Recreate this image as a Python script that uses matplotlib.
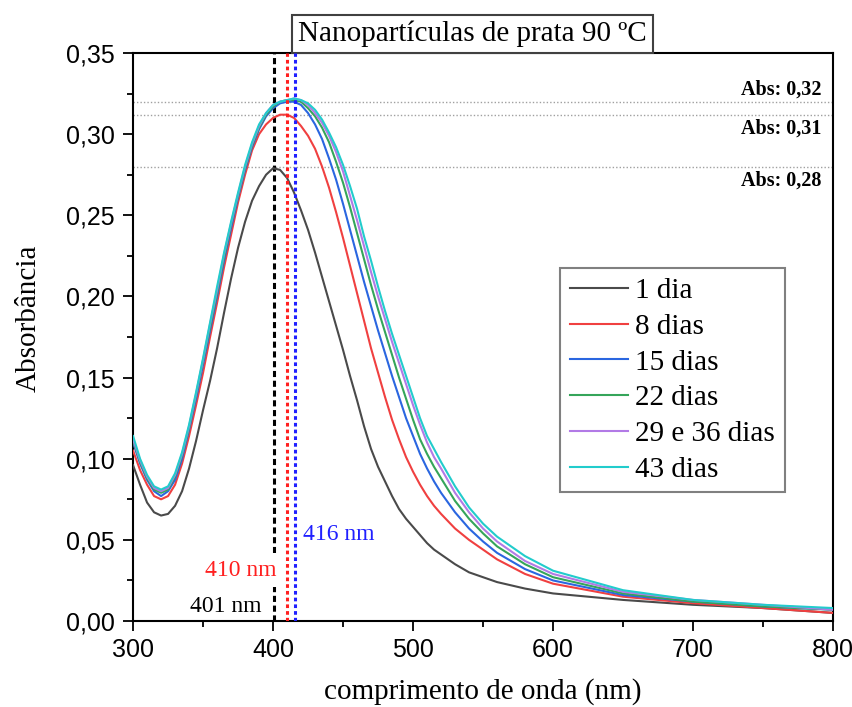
import numpy as np
import matplotlib.pyplot as plt
from matplotlib.ticker import MultipleLocator, FuncFormatter

plt.rcParams['font.family'] = ['Liberation Serif', 'DejaVu Serif']

# comprimento de onda (nm)
wl = [300, 305, 310, 315, 320, 325, 330, 335, 340, 345, 350, 355, 360, 365, 370, 375,
      380, 385, 390, 395, 400, 405, 410, 415, 420, 425, 430, 435, 440, 445, 450, 455,
      460, 465, 470, 475, 480, 485, 490, 495, 500, 505, 510, 515, 520,
      530, 540, 550, 560, 580, 600, 650, 700, 750, 800]

abs_1 = [0.096, 0.084, 0.073, 0.067, 0.065, 0.066, 0.071, 0.080, 0.094, 0.111, 0.130, 0.148, 0.168, 0.190, 0.211, 0.230,
         0.246, 0.259, 0.268, 0.275, 0.279, 0.278, 0.273, 0.264, 0.253, 0.241, 0.227, 0.212, 0.197, 0.182, 0.167, 0.151,
         0.136, 0.120, 0.106, 0.095, 0.086, 0.077, 0.069, 0.063, 0.058, 0.053, 0.048, 0.044, 0.041,
         0.035, 0.030, 0.027, 0.024, 0.020, 0.017, 0.013, 0.010, 0.008, 0.005]
abs_8 = [0.105, 0.093, 0.084, 0.077, 0.075, 0.077, 0.084, 0.097, 0.114, 0.133, 0.153, 0.175, 0.196, 0.218, 0.238, 0.258,
         0.275, 0.290, 0.300, 0.306, 0.310, 0.312, 0.312, 0.310, 0.305, 0.299, 0.291, 0.280, 0.267, 0.252, 0.236, 0.219,
         0.202, 0.185, 0.168, 0.153, 0.138, 0.124, 0.112, 0.101, 0.092, 0.084, 0.077, 0.071, 0.066,
         0.057, 0.050, 0.044, 0.038, 0.029, 0.023, 0.015, 0.011, 0.008, 0.005]
abs_15 = [0.110, 0.097, 0.087, 0.080, 0.077, 0.080, 0.087, 0.100, 0.118, 0.137, 0.158, 0.179, 0.200, 0.222, 0.242, 0.261,
          0.278, 0.292, 0.303, 0.311, 0.316, 0.319, 0.320, 0.320, 0.318, 0.313, 0.306, 0.297, 0.285, 0.272, 0.257, 0.241,
          0.225, 0.209, 0.194, 0.179, 0.165, 0.151, 0.138, 0.125, 0.114, 0.103, 0.094, 0.086, 0.079,
          0.067, 0.057, 0.049, 0.042, 0.032, 0.025, 0.016, 0.012, 0.009, 0.007]
abs_22 = [0.111, 0.098, 0.088, 0.081, 0.079, 0.081, 0.089, 0.102, 0.119, 0.139, 0.160, 0.181, 0.202, 0.224, 0.244, 0.262,
          0.279, 0.293, 0.304, 0.312, 0.317, 0.320, 0.321, 0.321, 0.320, 0.316, 0.311, 0.304, 0.295, 0.283, 0.270, 0.255,
          0.239, 0.223, 0.207, 0.192, 0.178, 0.164, 0.150, 0.137, 0.124, 0.112, 0.103, 0.095, 0.088,
          0.074, 0.063, 0.054, 0.046, 0.035, 0.027, 0.017, 0.012, 0.009, 0.007]
abs_29 = [0.112, 0.099, 0.089, 0.082, 0.080, 0.082, 0.090, 0.103, 0.120, 0.140, 0.161, 0.183, 0.204, 0.226, 0.245, 0.263,
          0.280, 0.294, 0.305, 0.313, 0.318, 0.320, 0.321, 0.322, 0.321, 0.318, 0.313, 0.307, 0.299, 0.289, 0.277, 0.262,
          0.247, 0.231, 0.215, 0.200, 0.186, 0.172, 0.159, 0.146, 0.133, 0.121, 0.110, 0.101, 0.094,
          0.079, 0.067, 0.057, 0.049, 0.037, 0.029, 0.018, 0.013, 0.010, 0.007]
abs_43 = [0.114, 0.100, 0.090, 0.083, 0.081, 0.083, 0.091, 0.104, 0.121, 0.141, 0.162, 0.184, 0.206, 0.227, 0.246, 0.264,
          0.281, 0.295, 0.306, 0.313, 0.318, 0.320, 0.321, 0.322, 0.321, 0.319, 0.315, 0.309, 0.301, 0.292, 0.281, 0.268,
          0.254, 0.237, 0.222, 0.206, 0.191, 0.177, 0.164, 0.151, 0.138, 0.125, 0.114, 0.106, 0.098,
          0.083, 0.070, 0.060, 0.052, 0.040, 0.031, 0.019, 0.013, 0.010, 0.008]

series = [abs_1, abs_8, abs_15, abs_22, abs_29, abs_43]
labels = ['1 dia', '8 dias', '15 dias', '22 dias', '29 e 36 dias', '43 dias']
colors = ['#4a4a4a', '#f04040', '#2a66e0', '#35a55a', '#b27ae6', '#22cccc']

# picos e absorbancias maximas
peaks = [401, 410, 416]
peak_colors = ['black', '#ff2020', '#2020ff']
abs_max = [0.32, 0.312, 0.28]
abs_text = ['Abs: 0,32', 'Abs: 0,31', 'Abs: 0,28']

fig = plt.figure(figsize=(8.53, 7.07), dpi=100)
ax = fig.add_axes([0.156, 0.1216, 0.8206, 0.8034])

for y, lab, c in zip(series, labels, colors):
    ax.plot(wl, y, color=c, lw=1.5, label=lab, zorder=3)

# linhas horizontais pontilhadas
for a in abs_max:
    ax.axhline(a, color='#a0a0a0', lw=1.0, ls=(0, (1, 1.5)), zorder=1)

ax.text(792, 0.3215, abs_text[0], ha='right', va='bottom', fontsize=14.5, fontweight='bold')
ax.text(792, 0.3095, abs_text[1], ha='right', va='top', fontsize=14.5, fontweight='bold')
ax.text(792, 0.2775, abs_text[2], ha='right', va='top', fontsize=14.5, fontweight='bold')

# linhas verticais dos picos
ax.axvline(peaks[0], color=peak_colors[0], lw=2.2, ls=(0, (2, 1.2)), zorder=2)
ax.axvline(peaks[1], color=peak_colors[1], lw=2.2, ls=(0, (1.2, 1)), zorder=5)
ax.axvline(peaks[2], color=peak_colors[2], lw=2.2, ls=(0, (1.2, 1)), zorder=5)

ax.text(392, 0.0092, '401 nm', color='black', ha='right', va='center', fontsize=17, zorder=4)
ax.text(402.5, 0.0314, '410 nm', color='#ff2020', ha='right', va='center', fontsize=17, zorder=4,
        bbox=dict(facecolor='white', edgecolor='none', pad=5))
ax.text(421.5, 0.0536, '416 nm', color='#2020ff', ha='left', va='center', fontsize=17, zorder=4)

ax.set_xlim(300, 800)
ax.set_ylim(0, 0.35)
ax.xaxis.set_major_locator(MultipleLocator(100))
ax.xaxis.set_minor_locator(MultipleLocator(50))
ax.yaxis.set_major_locator(MultipleLocator(0.05))
ax.yaxis.set_minor_locator(MultipleLocator(0.025))
ax.yaxis.set_major_formatter(FuncFormatter(lambda v, p: f'{v:.2f}'.replace('.', ',')))
ax.tick_params(which='both', direction='out', top=False, right=False, width=1.3, colors='black')
ax.tick_params(which='major', length=7, labelsize=18)
ax.tick_params(axis='y', which='major', pad=6)
ax.tick_params(axis='x', which='major', pad=5)
ax.tick_params(which='minor', length=4)
for t in ax.get_xticklabels() + ax.get_yticklabels():
    t.set_fontfamily('Liberation Sans')
for s in ax.spines.values():
    s.set_linewidth(1.5)

ax.set_xlabel('comprimento de onda (nm)', fontsize=21, labelpad=12)
ax.set_ylabel('Absorbância', fontsize=21)
ax.yaxis.set_label_coords(-0.13, 0.533)

ax.text(0.485, 1.0105, 'Nanopartículas de prata 90 ºC', transform=ax.transAxes,
        ha='center', va='bottom', fontsize=21,
        bbox=dict(boxstyle='square,pad=0.2', facecolor='white', edgecolor='#404040', lw=1.5))

leg = ax.legend(loc='upper left', bbox_to_anchor=(0.61, 0.6215), borderaxespad=0,
                fontsize=21, fancybox=False, framealpha=1, edgecolor='#808080',
                handlelength=2.0, handletextpad=0.25, labelspacing=0.32, borderpad=0.33)
leg.get_frame().set_linewidth(1.5)
leg.set_zorder(6)

fig.savefig('out.png', dpi=100)
